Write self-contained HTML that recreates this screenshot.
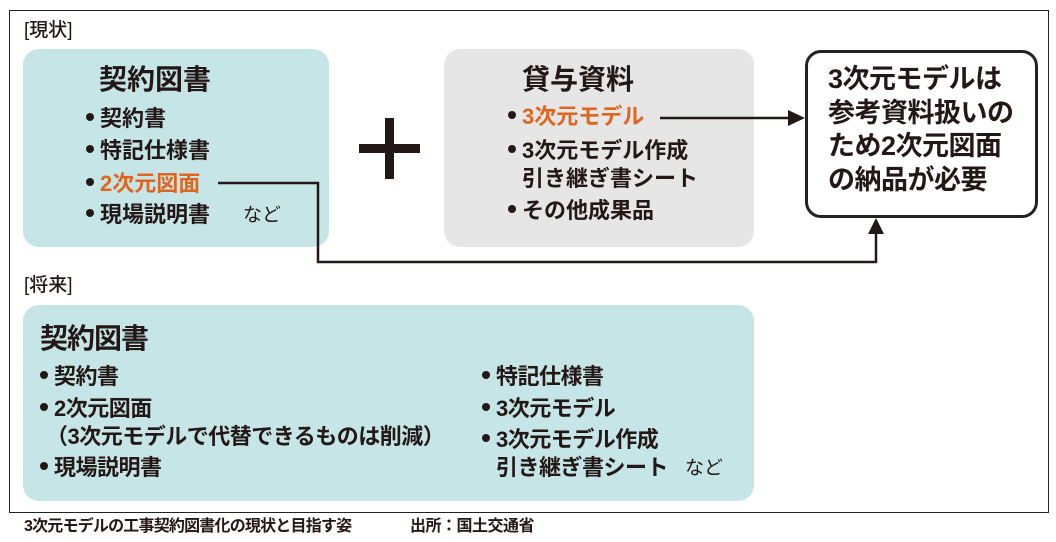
<!DOCTYPE html>
<html><head><meta charset="utf-8"><style>
body{margin:0;width:1056px;height:542px;background:#fff;position:relative;overflow:hidden;font-family:"Liberation Sans","Noto Sans CJK JP",sans-serif;color:#231815}
.a{position:absolute;white-space:nowrap;line-height:1}
.b{font-weight:bold}
.o{color:#e0651e}
.t{font-size:22px;font-weight:bold;letter-spacing:0px}
.u{font-size:22px;font-weight:bold;letter-spacing:-0.5px}
.d{display:inline-block;width:8px;height:8px;border-radius:50%;background:#231815;vertical-align:5px;margin-right:6px}
.bx{position:absolute;border-radius:16px}
</style></head><body>
<div style="position:absolute;left:9px;top:10px;width:1038px;height:501px;border:1.5px solid #222"></div>
<div class="a" style="left:24px;top:21px;font-size:19px;font-weight:500">[現状]</div>
<div class="bx" style="left:23px;top:49px;width:306px;height:198px;background:#c6e5e6"></div>
<div class="bx" style="left:444px;top:49px;width:310px;height:198px;background:#e6e6e6"></div>
<div class="bx" style="left:805px;top:50px;width:227px;height:162px;border:3px solid #222;background:#fff"></div>
<div class="a b" style="left:99px;top:66px;font-size:28px">契約図書</div>
<div class="a t" style="left:86px;top:108px"><span class="d"></span>契約書</div>
<div class="a t" style="left:86px;top:140px"><span class="d"></span>特記仕様書</div>
<div class="a t" style="left:86px;top:173px"><span class="d"></span><span class="o">2次元図面</span></div>
<div class="a t" style="left:86px;top:204px"><span class="d"></span>現場説明書</div>
<div class="a" style="left:243px;top:206px;font-size:19px">など</div>
<div style="position:absolute;left:359px;top:144px;width:61px;height:9px;background:#231815"></div>
<div style="position:absolute;left:385px;top:118px;width:9px;height:61px;background:#231815"></div>
<div class="a b" style="left:522px;top:66px;font-size:28px">貸与資料</div>
<div class="a t" style="left:508px;top:106px"><span class="d"></span><span class="o">3次元モデル</span></div>
<div class="a t" style="left:508px;top:140px"><span class="d"></span>3次元モデル作成</div>
<div class="a t" style="left:522px;top:168px">引き継ぎ書シート</div>
<div class="a t" style="left:508px;top:200px"><span class="d"></span>その他成果品</div>
<div class="a b" style="left:828px;top:63px;font-size:27px;line-height:33.5px;letter-spacing:-0.5px">3次元モデルは<br>参考資料扱いの<br>ため2次元図面<br>の納品が必要</div>
<svg style="position:absolute;left:0;top:0" width="1056" height="542">
<polyline points="218,183 318,183 318,262 876,262 876,232" fill="none" stroke="#231815" stroke-width="2.5"/>
<polygon points="868,234 884,234 876,218" fill="#231815"/>
<line x1="660" y1="118" x2="790" y2="118" stroke="#231815" stroke-width="2.5"/>
<polygon points="788,110 788,126 805,118" fill="#231815"/>
</svg>
<div class="a" style="left:24px;top:276px;font-size:19px;font-weight:500">[将来]</div>
<div class="bx" style="left:23px;top:305px;width:731px;height:196px;background:#c6e5e6"></div>
<div class="a b" style="left:40px;top:325px;font-size:28px;letter-spacing:-1px">契約図書</div>
<div class="a u" style="left:40px;top:366px"><span class="d"></span>契約書</div>
<div class="a u" style="left:40px;top:398px"><span class="d"></span>2次元図面</div>
<div class="a u" style="left:46px;top:426px">（3次元モデルで代替できるものは削減）</div>
<div class="a u" style="left:40px;top:457px"><span class="d"></span>現場説明書</div>
<div class="a u" style="left:482px;top:366px"><span class="d"></span>特記仕様書</div>
<div class="a u" style="left:482px;top:398px"><span class="d"></span>3次元モデル</div>
<div class="a u" style="left:482px;top:429px"><span class="d"></span>3次元モデル作成</div>
<div class="a u" style="left:496px;top:457px">引き継ぎ書シート</div>
<div class="a" style="left:685px;top:459px;font-size:19px">など</div>
<div class="a" style="left:24px;top:519px;font-size:16px;font-weight:bold;letter-spacing:-0.8px">3次元モデルの工事契約図書化の現状と目指す姿</div>
<div class="a" style="left:410px;top:519px;font-size:16px;font-weight:bold;letter-spacing:-0.5px">出所：国土交通省</div>
</body></html>
